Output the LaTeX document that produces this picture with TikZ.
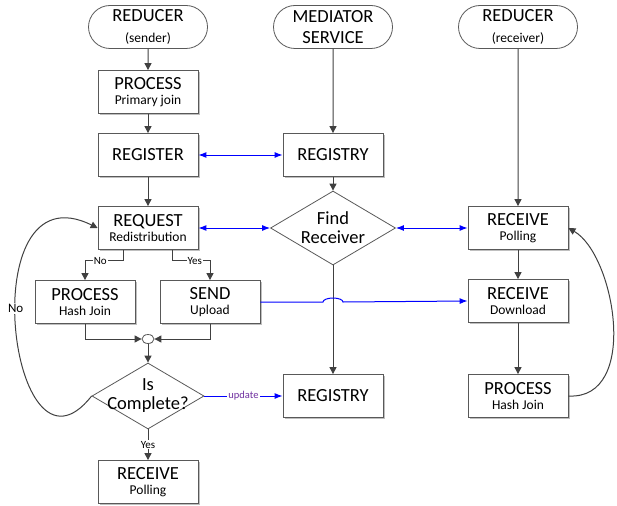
\documentclass[tikz,border=0pt]{standalone}
\usepackage{fontspec}
\setmainfont{Carlito}
\usepackage{tikz}
\usetikzlibrary{shapes, arrows.meta, calc, shadows}

\definecolor{lineGray}{HTML}{404040}
\definecolor{boxGray}{HTML}{595959}
\definecolor{linkBlue}{HTML}{0000FF}
\definecolor{updPurple}{HTML}{7030A0}

\newcommand{\subtext}[1]{{\fontsize{13.5}{14}\selectfont #1}}

\tikzstyle{terminal} = [rounded rectangle, draw=boxGray, fill=white, line width=0.8pt,
    minimum width=121pt, minimum height=43pt, inner sep=1pt, align=center,
    font=\fontsize{18.5}{21}\selectfont]
\tikzstyle{component} = [rectangle, draw=boxGray, fill=white, line width=0.8pt,
    drop shadow={shadow xshift=1.5pt, shadow yshift=-1.5pt, opacity=0.25, fill=black},
    minimum width=100pt, minimum height=43pt, inner sep=1pt, align=center,
    font=\fontsize{18.5}{15}\selectfont]
\tikzstyle{decision} = [diamond, aspect=1.7, draw=boxGray, fill=white, line width=0.8pt,
    minimum width=112pt, minimum height=66pt, inner sep=-5pt, align=center,
    font=\fontsize{18.5}{19}\selectfont]
\tikzstyle{junction} = [ellipse, draw=boxGray, fill=white, line width=0.8pt,
    minimum width=12pt, minimum height=9pt, inner sep=0pt]
\tikzstyle{line} = [draw=lineGray, line width=1pt, -{Triangle[length=7pt, width=7pt]}]
\tikzstyle{link} = [draw=linkBlue, line width=1pt, -{Latex[length=8pt, width=6pt]}]
\tikzstyle{twolink} = [draw=linkBlue, line width=1pt, {Latex[length=8pt, width=6pt]}-{Latex[length=8pt, width=6pt]}]
\tikzstyle{tag} = [fill=white, inner sep=1pt, font=\fontsize{11}{12}\selectfont]

\begin{document}
\begin{tikzpicture}[x=1pt, y=1pt, node distance=185pt]
    \useasboundingbox (0,0) rectangle (617,-505);
    % Nodes
    \node [terminal] (sender) at (148,-27) {REDUCER\\\subtext{(sender)}};
    \node [terminal, right of=sender] (mediator) {MEDIATOR\\SERVICE};
    \node [terminal, right of=mediator] (receiver) {REDUCER\\\subtext{(receiver)}};
    \node [component, below of=sender, node distance=65pt] (primary) {PROCESS\\\subtext{Primary join}};
    \node [component, below of=primary, node distance=63pt] (register) {REGISTER};
    \node [component, right of=register] (registry) {REGISTRY};
    \node [component, below of=register, node distance=73pt] (request) {REQUEST\\\subtext{Redistribution}};
    \node [decision, right of=request, minimum width=125pt, minimum height=74pt] (find) {Find\\Receiver};
    \node [component, right of=find] (polling) {RECEIVE\\\subtext{Polling}};
    \node [component, below of=polling, node distance=73pt] (download) {RECEIVE\\\subtext{Download}};
    \node [component, below of=download, node distance=95pt] (hashr) {PROCESS\\\subtext{Hash Join}};
    \node [component, left of=hashr] (regupdate) {REGISTRY};
    \node [component, below of=request, node distance=74pt, xshift=-63pt] (hashl) {PROCESS\\\subtext{Hash Join}};
    \node [component, below of=request, node distance=74pt, xshift=62pt] (send) {SEND\\\subtext{Upload}};
    \node [junction, below of=request, node distance=111pt] (merge) {};
    \node [decision, below of=merge, node distance=57pt] (complete) {Is\\Complete?};
    \node [component, below of=complete, node distance=86pt] (pollend) {RECEIVE\\\subtext{Polling}};
    % Edges
    \path [line] (sender) -- (primary);
    \path [line] (primary) -- (register);
    \path [line] (register) -- (request);
    \path [line] (mediator) -- (registry);
    \path [line] (registry) -- (find);
    \path [line] (find) -- (regupdate);
    \path [line] (receiver) -- (polling);
    \path [line] (polling) -- (download);
    \path [line] (download) -- (hashr);
    \path [line] ([xshift=-25pt]request.south) -- ++(0,-11) -| node [tag, pos=0.3] {No} (hashl.north);
    \path [line] ([xshift=24pt]request.south) -- ++(0,-11) -| node [tag, pos=0.3] {Yes} (send.north);
    \path [line] (hashl.south) |- (merge.west);
    \path [line] (send.south) |- (merge.east);
    \path [line] (merge) -- (complete);
    \path [line] (complete) -- node [tag] {Yes} (pollend);
    \path [line] (complete.west) .. controls (10,-500) and (-30,-165) .. node [tag, pos=0.55, font=\fontsize{13}{14}\selectfont] {No} (request.west);
    \path [line] (hashr.east) .. controls (640,-400) and (615,-255) .. (polling.east);
    % Blue links
    \path [twolink] (register) -- (registry);
    \path [twolink] (request) -- (find);
    \path [twolink] (find) -- (polling);
    \path [link] (send.east) -- ([xshift=-10pt]send.east -| find.south) arc [start angle=180, end angle=0, x radius=10pt, y radius=4pt] -- (download.west);
    \path [link] (complete.east) -- node [tag, text=updPurple, font=\fontsize{10.5}{12}\selectfont] {update} (regupdate.west);
\end{tikzpicture}
\end{document}
